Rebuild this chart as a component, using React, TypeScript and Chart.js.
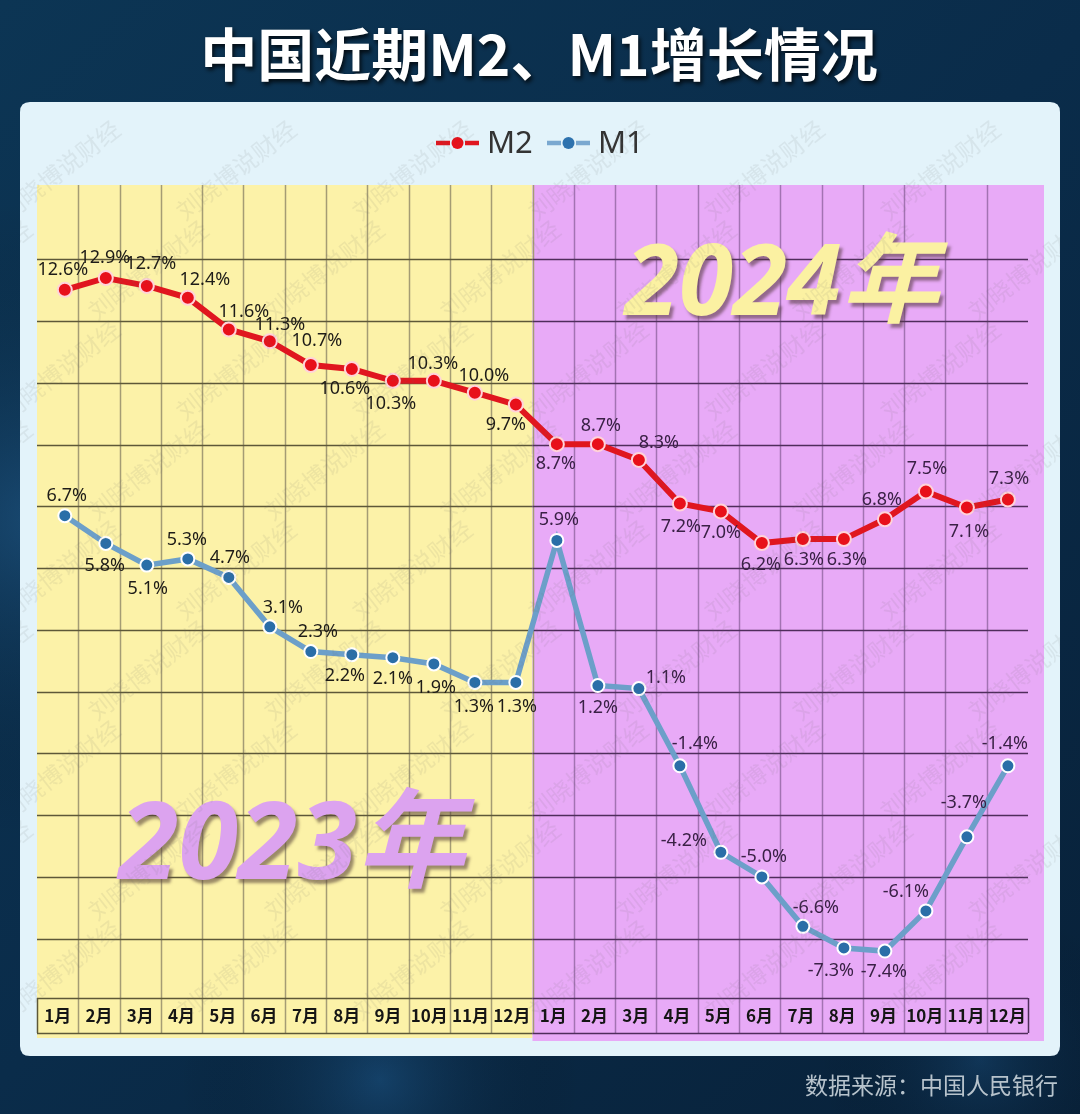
import React, { useEffect, useRef } from 'react';
import { Chart, registerables } from 'chart.js';

Chart.register(...registerables);

// ---------- data ----------
const months = [
  '1月', '2月', '3月', '4月', '5月', '6月', '7月', '8月', '9月', '10月', '11月', '12月',
  '1月', '2月', '3月', '4月', '5月', '6月', '7月', '8月', '9月', '10月', '11月', '12月',
];
const m2Values = [12.6, 12.9, 12.7, 12.4, 11.6, 11.3, 10.7, 10.6, 10.3, 10.3, 10.0, 9.7,
  8.7, 8.7, 8.3, 7.2, 7.0, 6.2, 6.3, 6.3, 6.8, 7.5, 7.1, 7.3];
const m1Values = [6.7, 5.8, 5.1, 5.3, 4.7, 3.1, 2.3, 2.2, 2.1, 1.9, 1.3, 1.3,
  5.9, 1.2, 1.1, -1.4, -4.2, -5.0, -6.6, -7.3, -7.4, -6.1, -3.7, -1.4];
const gridValues = [-7, -5, -3, -1, 1, 3, 5, 7, 9, 11, 13, 15];
const seriesNames = ['M2', 'M1'];
const yearTexts = ['2023年', '2024年'];
const titleText = '中国近期M2、M1增长情况';
const sourceText = '数据来源：中国人民银行';
const watermarkText = '刘晓博说财经';

// label placement (style): [dx, dy] from the point
const m2LabelOffsets = [[-2, -20], [-1, -20], [4, -22], [17, -18], [15, -18], [10, -16], [6, -24], [-7, 20], [-2, 23], [-1, -17], [9, -17], [-10, 20],
  [-1, 20], [3, -18], [20, -17], [1, 23], [0, 21], [-1, 22], [1, 21], [3, 21], [-3, -19], [1, -23], [2, 24], [1, -21]];
const m1LabelOffsets = [[2, -20], [-1, 22], [1, 24], [-1, -19], [1, -20], [13, -19], [7, -20], [-7, 21], [0, 21], [2, 24], [-1, 24], [1, 24],
  [2, -21], [0, 22], [27, -11], [15, -22], [-37, -11], [2, -20], [13, -18], [-13, 23], [-1, 21], [-20, -19], [-3, -34], [-3, -22]];

const CJK = '"Noto Sans CJK SC", "Noto Sans", sans-serif';
const LAT = '"Noto Sans", "Noto Sans CJK SC", sans-serif';

const COLORS = {
  m2Line: '#e0161f', m2Point: '#e8101a', m2PointBorder: '#ffd3da',
  m1Line: '#6c9fc9', m1Point: '#2a6ea8', m1PointBorder: '#ffffff',
  yellow: '#fcf2a8', pink: '#e8aaf7',
  yellowV: '#a49c74', pinkV: '#a273b2',
  yellowH: '#5d5838', pinkH: '#4f2d5c',
};

const ROW_H = 35;

function roundRect(ctx: CanvasRenderingContext2D, x: number, y: number, w: number, h: number, r: number) {
  ctx.beginPath();
  ctx.moveTo(x + r, y);
  ctx.lineTo(x + w - r, y);
  ctx.quadraticCurveTo(x + w, y, x + w, y + r);
  ctx.lineTo(x + w, y + h - r);
  ctx.quadraticCurveTo(x + w, y + h, x + w - r, y + h);
  ctx.lineTo(x + r, y + h);
  ctx.quadraticCurveTo(x, y + h, x, y + h - r);
  ctx.lineTo(x, y + r);
  ctx.quadraticCurveTo(x, y, x + r, y);
  ctx.closePath();
}

const decorPlugin = {
  id: 'decor',
  beforeDraw(chart: any) {
    const ctx: CanvasRenderingContext2D = chart.ctx;
    const W = chart.width, H = chart.height;
    ctx.save();
    // background
    const g = ctx.createLinearGradient(0, 0, W, H);
    g.addColorStop(0, '#0c3554');
    g.addColorStop(0.5, '#0a2c4a');
    g.addColorStop(1, '#082139');
    ctx.fillStyle = g;
    ctx.fillRect(0, 0, W, H);
    const glows = [[40, 520, 320, 'rgba(50,120,180,0.35)'], [380, 1080, 200, 'rgba(40,110,170,0.35)'], [980, 1060, 160, 'rgba(40,110,170,0.25)']];
    glows.forEach(([gx, gy, gr, gc]: any) => {
      const rg = ctx.createRadialGradient(gx, gy, 0, gx, gy, gr);
      rg.addColorStop(0, gc);
      rg.addColorStop(1, 'rgba(0,0,0,0)');
      ctx.fillStyle = rg;
      ctx.fillRect(0, 0, W, H);
    });

    // title
    ctx.font = `bold 57px ${CJK}`;
    ctx.textAlign = 'center';
    ctx.textBaseline = 'middle';
    ctx.shadowColor = 'rgba(0,0,0,0.75)';
    ctx.shadowOffsetX = 2;
    ctx.shadowOffsetY = 3;
    ctx.shadowBlur = 4;
    ctx.fillStyle = '#ffffff';
    ctx.fillText(titleText, 539, 54);
    ctx.shadowColor = 'rgba(0,0,0,0)';

    // panel
    roundRect(ctx, 20, 102, 1040, 954, 10);
    ctx.fillStyle = '#e3f3fa';
    ctx.fill();

    // footer
    ctx.font = `23px ${CJK}`;
    ctx.textAlign = 'right';
    ctx.fillStyle = '#b7c3cc';
    ctx.fillText(sourceText, 1058, 1085);

    // legend
    const legendItems = [
      { name: seriesNames[0], line: COLORS.m2Line, dot: COLORS.m2Point, x: 436 },
      { name: seriesNames[1], line: '#7aa8d0', dot: '#2e72ae', x: 547 },
    ];
    ctx.textAlign = 'left';
    legendItems.forEach((it) => {
      const ly = 143;
      ctx.strokeStyle = it.line;
      ctx.lineWidth = 4.5;
      ctx.beginPath();
      ctx.moveTo(it.x, ly); ctx.lineTo(it.x + 14, ly);
      ctx.moveTo(it.x + 29, ly); ctx.lineTo(it.x + 43, ly);
      ctx.stroke();
      ctx.fillStyle = it.dot;
      ctx.beginPath();
      ctx.arc(it.x + 21.5, ly, 6, 0, Math.PI * 2);
      ctx.fill();
      ctx.fillStyle = '#333333';
      ctx.font = `31px ${LAT}`;
      ctx.fillText(it.name, it.x + 51, ly + 1);
    });

    // plot backgrounds
    const xs = chart.scales.x;
    const ys = chart.scales.y;
    const { left, right, top, bottom } = chart.chartArea;
    const mid = xs.getPixelForValue(11.5);
    ctx.fillStyle = COLORS.yellow;
    ctx.fillRect(left, top, mid - left, bottom + ROW_H + 5 - top);
    ctx.fillStyle = COLORS.pink;
    ctx.fillRect(mid, top, right + 16 - mid, bottom + ROW_H + 8 - top);

    // vertical lines
    ctx.lineWidth = 1.5;
    for (let k = 0; k <= months.length; k++) {
      const vx = Math.round(xs.getPixelForValue(k - 0.5)) + 0.5;
      ctx.strokeStyle = k <= 12 ? COLORS.yellowV : COLORS.pinkV;
      if (k === 0 || k === months.length) ctx.strokeStyle = k === 0 ? COLORS.yellowH : COLORS.pinkH;
      ctx.beginPath();
      ctx.moveTo(vx, k === 0 || k === months.length ? bottom : top);
      ctx.lineTo(vx, bottom + ROW_H);
      ctx.stroke();
    }
    // horizontal lines
    const hLines = gridValues.map((v) => ys.getPixelForValue(v)).concat([bottom, bottom + ROW_H]);
    ctx.lineWidth = 1.5;
    hLines.forEach((hy: number) => {
      const yy = Math.round(hy) + 0.5;
      ctx.strokeStyle = COLORS.yellowH;
      ctx.beginPath(); ctx.moveTo(left, yy); ctx.lineTo(mid, yy); ctx.stroke();
      ctx.strokeStyle = COLORS.pinkH;
      ctx.beginPath(); ctx.moveTo(mid, yy); ctx.lineTo(right, yy); ctx.stroke();
    });
    ctx.restore();
  },
  beforeDatasetsDraw(chart: any) {
    const ctx: CanvasRenderingContext2D = chart.ctx;
    ctx.save();
    ctx.textAlign = 'center';
    ctx.textBaseline = 'middle';
    const big = [
      { text: yearTexts[1], x: 782, y: 287, size: 98, fill: '#fbf1a2', shadow: 'rgba(90,60,70,0.6)' },
      { text: yearTexts[0], x: 292, y: 848, size: 108, fill: '#dca3ef', shadow: 'rgba(90,70,60,0.6)' },
    ];
    big.forEach((b) => {
      ctx.font = `italic bold ${b.size}px ${LAT}`;
      ctx.shadowColor = b.shadow;
      ctx.shadowOffsetX = 3;
      ctx.shadowOffsetY = 4;
      ctx.shadowBlur = 3;
      ctx.fillStyle = b.fill;
      ctx.fillText(b.text, b.x, b.y);
    });
    ctx.restore();
  },
  afterDatasetsDraw(chart: any) {
    const ctx: CanvasRenderingContext2D = chart.ctx;
    ctx.save();
    ctx.font = `18px ${LAT}`;
    ctx.textAlign = 'center';
    ctx.textBaseline = 'middle';
    const sets = [
      { idx: 0, values: m2Values, offs: m2LabelOffsets },
      { idx: 1, values: m1Values, offs: m1LabelOffsets },
    ];
    sets.forEach((s) => {
      const meta = chart.getDatasetMeta(s.idx);
      meta.data.forEach((pt: any, i: number) => {
        const [dx, dy] = s.offs[i];
        ctx.fillStyle = i < 12 ? '#1e1c18' : '#3a2146';
        ctx.fillText(`${s.values[i].toFixed(1)}%`, pt.x + dx, pt.y + dy);
      });
    });
    ctx.restore();
  },
  afterDraw(chart: any) {
    const ctx: CanvasRenderingContext2D = chart.ctx;
    const { left, right, top, bottom } = chart.chartArea;
    ctx.save();
    ctx.beginPath();
    ctx.rect(20, 102, 1040, 954);
    ctx.clip();
    ctx.font = `24px ${CJK}`;
    ctx.textAlign = 'center';
    ctx.textBaseline = 'middle';
    ctx.fillStyle = 'rgba(110,110,110,0.10)';
    for (let r = 0; r < 10; r++) {
      for (let c = -1; c < 8; c++) {
        const cx = c * 176 + (r % 2) * 88 + 60;
        const cy = 170 + r * 100;
        if (cy > bottom + 60 || cx > right + 80 || cx < left - 80 || cy < top - 60) continue;
        ctx.save();
        ctx.translate(cx, cy);
        ctx.rotate(-38 * Math.PI / 180);
        ctx.fillText(watermarkText, 0, 0);
        ctx.restore();
      }
    }
    ctx.restore();
  },
};

export default function App() {
  const ref = useRef<HTMLCanvasElement | null>(null);
  useEffect(() => {
    if (!ref.current) return;
    const chart = new Chart(ref.current, {
      type: 'line',
      data: {
        labels: months,
        datasets: [
          {
            label: seriesNames[0],
            data: m2Values.map((v, i) => ({ x: i, y: v })),
            xAxisID: 'xp',
            yAxisID: 'y2',
            borderColor: COLORS.m2Line,
            borderWidth: 6,
            pointRadius: 7,
            pointBackgroundColor: COLORS.m2Point,
            pointBorderColor: COLORS.m2PointBorder,
            pointBorderWidth: 2,
            tension: 0,
          },
          {
            label: seriesNames[1],
            data: m1Values.map((v, i) => ({ x: i, y: v })),
            xAxisID: 'xp',
            yAxisID: 'y',
            borderColor: COLORS.m1Line,
            borderWidth: 5.5,
            pointRadius: 6.5,
            pointBackgroundColor: COLORS.m1Point,
            pointBorderColor: COLORS.m1PointBorder,
            pointBorderWidth: 2,
            tension: 0,
          },
        ],
      },
      options: {
        responsive: false,
        animation: false,
        devicePixelRatio: 1,
        layout: { padding: { left: 37, right: 52, top: 185, bottom: 76 } },
        plugins: { legend: { display: false }, tooltip: { enabled: false }, title: { display: false } },
        scales: {
          x: {
            type: 'category',
            offset: true,
            grid: { display: false, drawTicks: false },
            border: { display: false },
            ticks: {
              color: '#151515',
              font: { family: CJK, size: 17, weight: 'bold' },
              padding: 7,
              maxRotation: 0,
              autoSkip: false,
            },
            afterFit: (s: any) => { s.height = 40; },
          },
          xp: { type: 'linear', display: false, min: -0.678, max: 23.49 },
          y: { type: 'linear', display: false, min: -8.92, max: 17.41 },
          y2: { type: 'linear', display: false, min: -5.30, max: 15.25 },
        },
      },
      plugins: [decorPlugin],
    } as any);
    return () => chart.destroy();
  }, []);
  return (
    <div style={{ position: 'absolute', left: 0, top: 0, width: 1080, height: 1114 }}>
      <canvas ref={ref} width={1080} height={1114} style={{ display: 'block' }} />
    </div>
  );
}
